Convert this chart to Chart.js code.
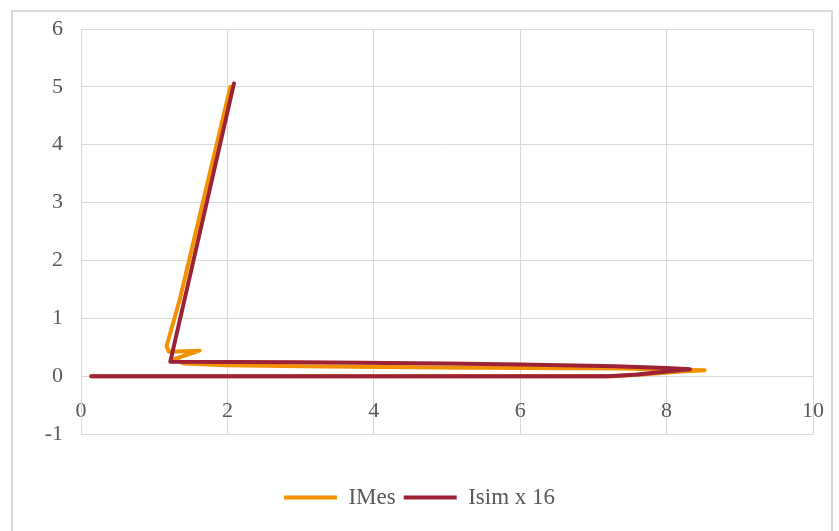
<!DOCTYPE html>
<html>
<head>
<meta charset="utf-8">
<script src="https://cdn.jsdelivr.net/npm/chart.js@4.4.1/dist/chart.umd.min.js"></script>
<style>
    html, body { margin: 0; padding: 0; background: #ffffff; }
    #wrap { position: relative; width: 839px; height: 531px; overflow: hidden; }
    #frame { position: absolute; left: 11px; top: 10px; width: 818px; height: 600px; border: 2px solid #d9d9d9; }
    #chartBox { position: absolute; left: 0; top: 0; width: 839px; height: 531px; }
</style>
</head>
<body>
<div id="wrap">
    <div id="frame"></div>
    <div id="chartBox"><canvas id="curveChart"></canvas></div>
</div>
<script>
// Nama seri
const seriesNames = ['IMes', 'Isim x 16'];

// IMes (oranye)
const imesX = [0.14, 7.3, 7.8, 8.2, 8.52, 8.0, 7.4, 6.0, 4.9, 3.0, 2.0, 1.4, 1.28, 1.62, 1.2, 1.17, 1.35, 2.04];
const imesY = [0.0, 0.0, 0.04, 0.08, 0.1, 0.11, 0.13, 0.14, 0.15, 0.17, 0.19, 0.22, 0.3, 0.44, 0.42, 0.52, 1.33, 5.0];

// Isim x 16 (merah tua)
const isimX = [0.14, 7.2, 7.6, 8.0, 8.32, 8.0, 7.3, 6.0, 5.0, 3.0, 1.22, 2.09];
const isimY = [0.0, 0.0, 0.03, 0.08, 0.12, 0.14, 0.17, 0.2, 0.22, 0.24, 0.25, 5.06];

// Sumbu
const xTicks = [0, 2, 4, 6, 8, 10];
const yTicks = [-1, 0, 1, 2, 3, 4, 5, 6];

const colors = ['#f39200', '#9e2236'];

function toPoints(xs, ys) {
    return xs.map((x, i) => ({ x: x, y: ys[i] }));
}

const font = { family: "'Liberation Serif', serif", size: 22 };
const legendFont = { family: "'Liberation Serif', serif", size: 23 };
const gridColor = '#d9d9d9';

const ctx = document.getElementById('curveChart').getContext('2d');
new Chart(ctx, {
    type: 'scatter',
    data: {
        datasets: [
            {
                label: seriesNames[0],
                data: toPoints(imesX, imesY),
                borderColor: colors[0],
                backgroundColor: colors[0],
                order: 1
            },
            {
                label: seriesNames[1],
                data: toPoints(isimX, isimY),
                borderColor: colors[1],
                backgroundColor: colors[1],
                order: 0
            }
        ]
    },
    options: {
        responsive: true,
        maintainAspectRatio: false,
        animation: false,
        showLine: true,
        elements: {
            line: { borderWidth: 4, tension: 0, borderCapStyle: 'round', borderJoinStyle: 'round' },
            point: { radius: 0, hoverRadius: 0 }
        },
        layout: { padding: { left: 26, top: 29, right: 26, bottom: 12 } },
        scales: {
            x: {
                type: 'linear',
                position: { y: 0 },
                min: xTicks[0],
                max: xTicks[xTicks.length - 1],
                afterBuildTicks: scale => { scale.ticks = xTicks.map(v => ({ value: v })); },
                // label tidak boleh menggeser area grafik
                afterFit: scale => { scale.paddingLeft = 0; scale.paddingRight = 0; },
                grid: { color: gridColor, drawTicks: false },
                border: { color: gridColor },
                ticks: { font: font, color: '#595959', padding: 22, maxRotation: 0, autoSkip: false }
            },
            // sumbu kosong, hanya untuk memberi jarak ke legenda
            gap: {
                type: 'linear',
                axis: 'x',
                position: 'bottom',
                min: 0,
                max: 1,
                grid: { display: false },
                border: { display: false },
                ticks: { display: false },
                afterFit: scale => { scale.height = 44; }
            },
            y: {
                type: 'linear',
                min: yTicks[0],
                max: yTicks[yTicks.length - 1],
                afterBuildTicks: scale => { scale.ticks = yTicks.map(v => ({ value: v })); },
                afterFit: scale => { scale.width = 55; scale.paddingTop = 0; scale.paddingBottom = 0; },
                grid: { color: gridColor, drawTicks: false },
                border: { color: gridColor },
                ticks: { font: font, color: '#595959', padding: 18 }
            }
        },
        plugins: {
            tooltip: { enabled: false },
            legend: {
                position: 'bottom',
                labels: {
                    font: legendFont,
                    color: '#595959',
                    boxWidth: 53,
                    boxHeight: 4,
                    padding: 8,
                    sort: (a, b) => a.datasetIndex - b.datasetIndex,
                    generateLabels: chart =>
                        Chart.defaults.plugins.legend.labels.generateLabels(chart).map(l => ({
                            ...l, fillStyle: l.strokeStyle, lineWidth: 0
                        }))
                }
            }
        }
    }
});
</script>
</body>
</html>
